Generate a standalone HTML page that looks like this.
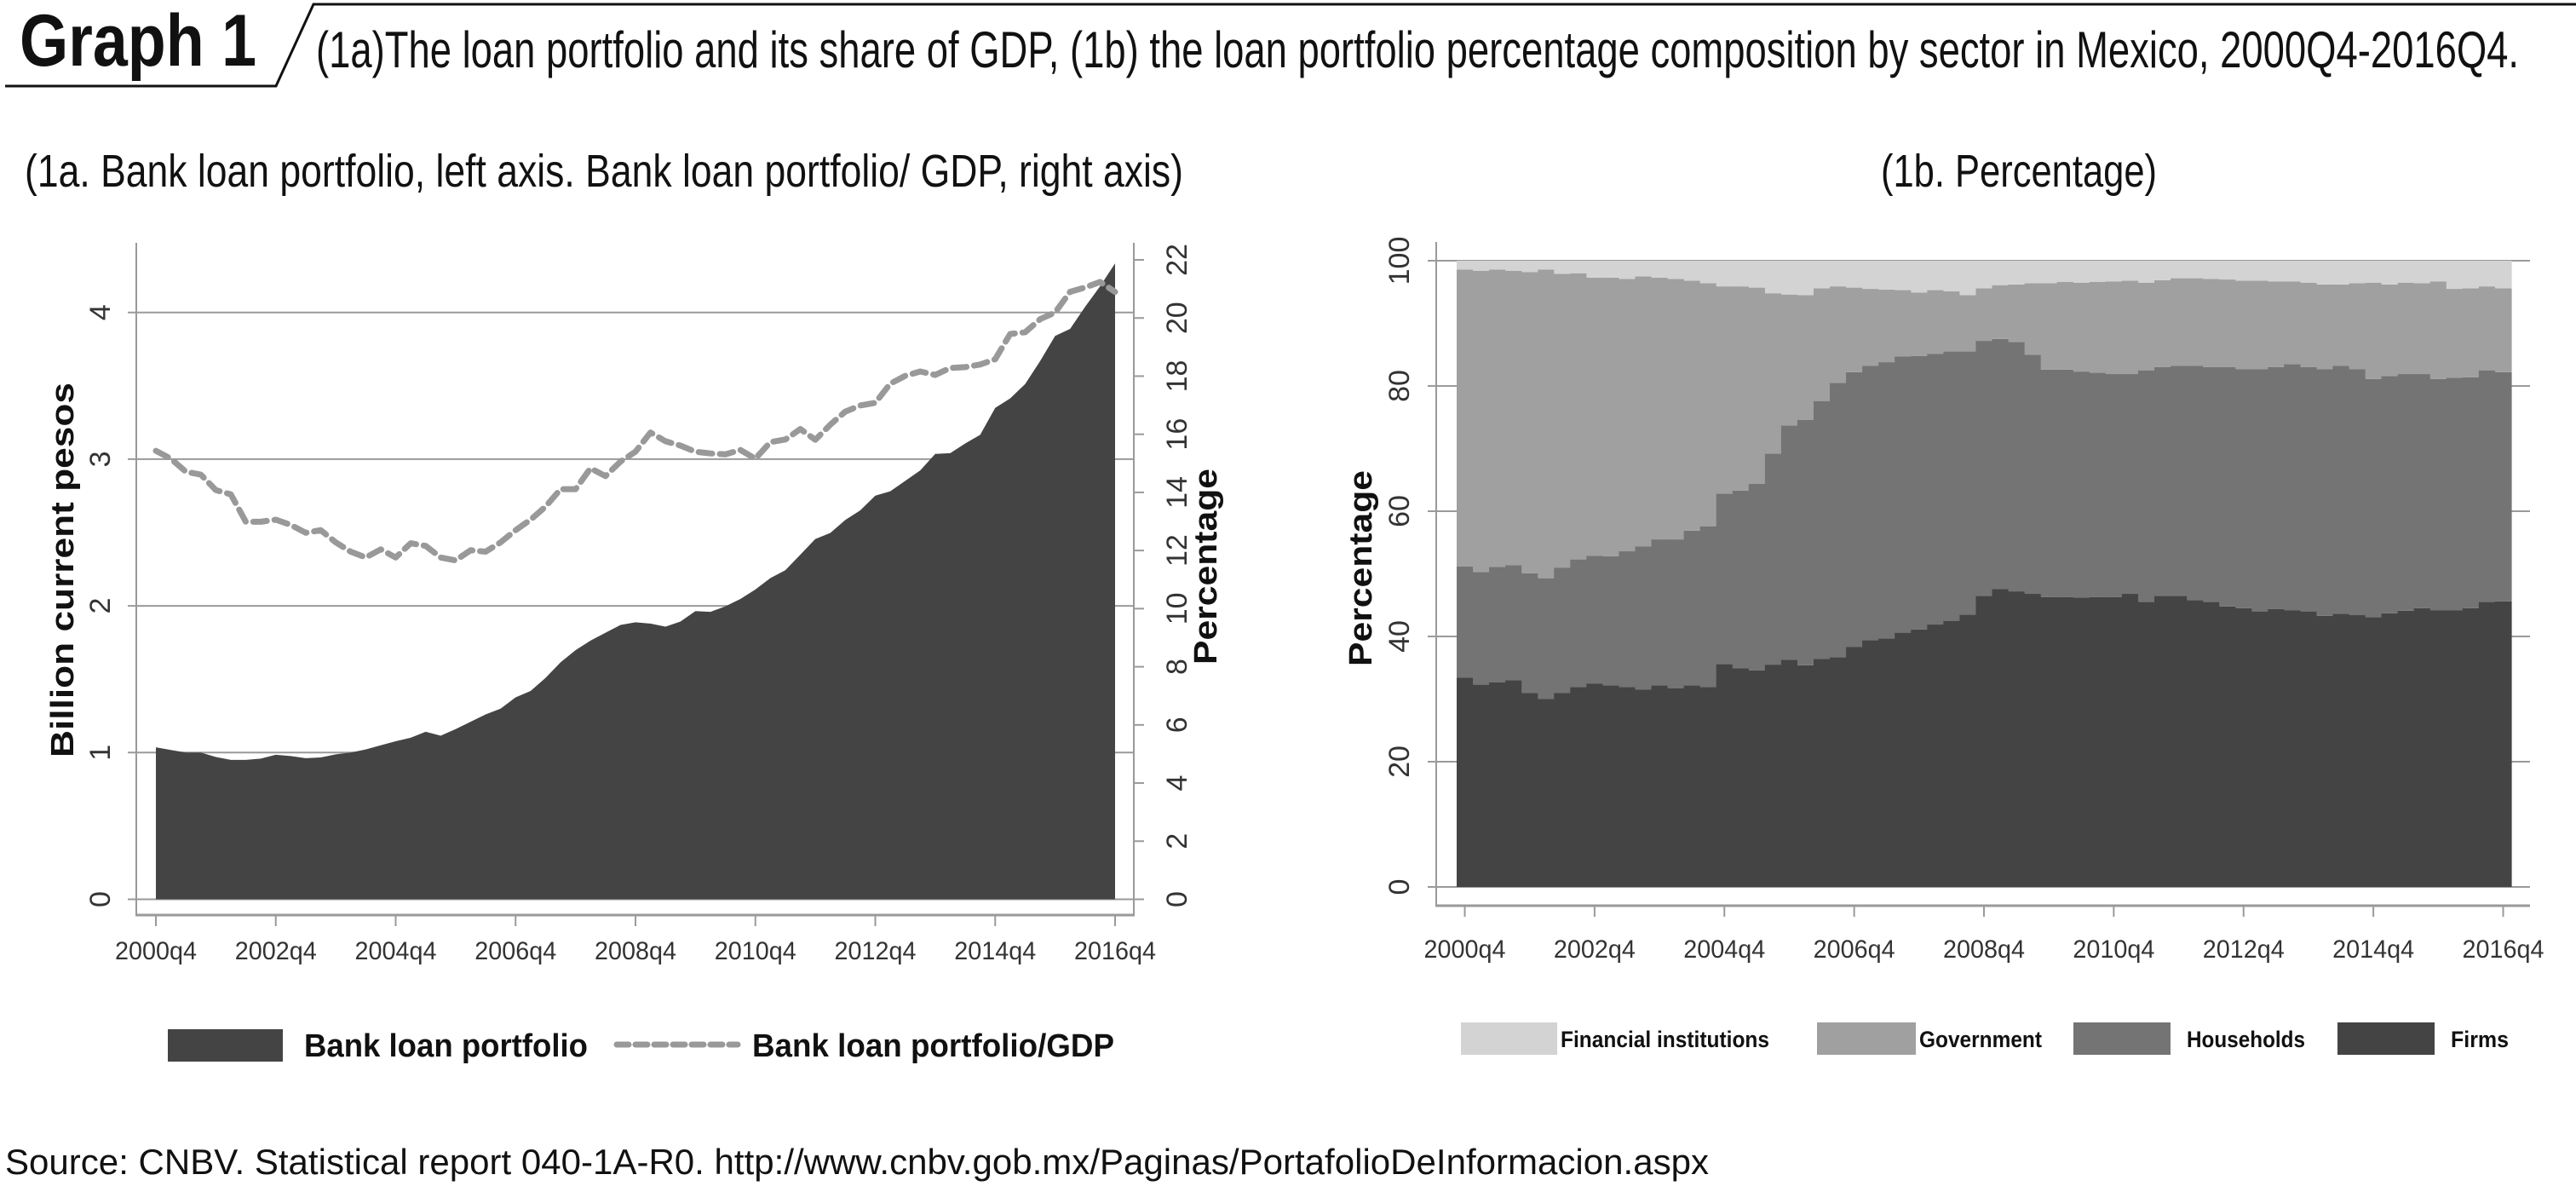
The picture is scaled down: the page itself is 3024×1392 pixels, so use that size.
<!DOCTYPE html>
<html><head><meta charset="utf-8"><style>
html,body{margin:0;padding:0;background:#fff;}
svg{display:block;font-family:"Liberation Sans",sans-serif;}
</style></head><body>
<svg id="root" width="3024" height="1392" viewBox="0 0 3024 1392" xmlns="http://www.w3.org/2000/svg">
<g>
<polyline points="6,101 324,101 368,5 3024,5" fill="none" stroke="#111" stroke-width="3"/>
<text x="23" y="77" font-size="86" font-weight="bold" textLength="278" lengthAdjust="spacingAndGlyphs" fill="#111">Graph 1</text>
<text x="371" y="79" font-size="60" textLength="2586" lengthAdjust="spacingAndGlyphs" fill="#111">(1a)The loan portfolio and its share of GDP, (1b) the loan portfolio percentage composition by sector in Mexico, 2000Q4-2016Q4.</text>
</g>
<text x="29" y="219" font-size="54" textLength="1360" lengthAdjust="spacingAndGlyphs" fill="#111">(1a. Bank loan portfolio, left axis. Bank loan portfolio/ GDP, right axis)</text>
<text x="2208" y="219" font-size="54" textLength="324" lengthAdjust="spacingAndGlyphs" fill="#111">(1b. Percentage)</text>
<g id="left"></g>
<g id="right"></g>
<g>
<rect x="197" y="1208" width="135" height="38" fill="#444"/>
<text x="357" y="1240" font-size="38" font-weight="bold" textLength="333" lengthAdjust="spacingAndGlyphs" fill="#111">Bank loan portfolio</text>
<line x1="724" y1="1226" x2="866" y2="1226" stroke="#999" stroke-width="7" stroke-dasharray="14 8" stroke-linecap="round"/>
<text x="883" y="1240" font-size="38" font-weight="bold" textLength="425" lengthAdjust="spacingAndGlyphs" fill="#111">Bank loan portfolio/GDP</text>
</g>
<g>
<rect x="1715" y="1200" width="113" height="38" fill="#d3d3d3"/>
<text x="1832" y="1229" font-size="27" font-weight="bold" textLength="245" lengthAdjust="spacingAndGlyphs" fill="#111">Financial institutions</text>
<rect x="2133" y="1200" width="116" height="38" fill="#a0a0a0"/>
<text x="2253" y="1229" font-size="27" font-weight="bold" textLength="144" lengthAdjust="spacingAndGlyphs" fill="#111">Government</text>
<rect x="2434" y="1200" width="114" height="38" fill="#747474"/>
<text x="2567" y="1229" font-size="27" font-weight="bold" textLength="139" lengthAdjust="spacingAndGlyphs" fill="#111">Households</text>
<rect x="2744" y="1200" width="114" height="38" fill="#444"/>
<text x="2877" y="1229" font-size="27" font-weight="bold" textLength="68" lengthAdjust="spacingAndGlyphs" fill="#111">Firms</text>
</g>
<text x="6" y="1378" font-size="42" textLength="2000" lengthAdjust="spacingAndGlyphs" fill="#111">Source: CNBV. Statistical report 040-1A-R0. http://www.cnbv.gob.mx/Paginas/PortafolioDeInformacion.aspx</text>
</svg>
<script>
const xTickLabels = ["2000q4","2002q4","2004q4","2006q4","2008q4","2010q4","2012q4","2014q4","2016q4"];
const loanPortfolio = [1.036,1.018,1.0,1.0,0.97,0.95,0.95,0.959,0.985,0.976,0.962,0.967,0.988,1.0,1.021,1.05,1.077,1.101,1.142,1.115,1.16,1.21,1.26,1.299,1.376,1.42,1.509,1.615,1.698,1.763,1.817,1.87,1.888,1.879,1.858,1.893,1.964,1.959,1.997,2.047,2.112,2.189,2.243,2.349,2.456,2.497,2.586,2.651,2.751,2.781,2.852,2.923,3.036,3.041,3.107,3.166,3.349,3.414,3.512,3.669,3.84,3.888,4.038,4.178,4.334];
const loanToGdp = [15.43,15.16,14.71,14.61,14.08,13.93,12.99,12.99,13.06,12.88,12.61,12.7,12.28,11.96,11.76,12.04,11.76,12.25,12.16,11.76,11.66,12.01,11.96,12.28,12.7,13.06,13.51,14.11,14.11,14.83,14.56,15.06,15.4,16.06,15.76,15.61,15.4,15.34,15.31,15.46,15.16,15.73,15.82,16.18,15.81,16.33,16.78,16.99,17.08,17.74,18.01,18.16,18.04,18.28,18.31,18.4,18.58,19.45,19.51,19.96,20.19,20.9,21.05,21.24,20.9];
const leftTicks = [0,1,2,3,4];
const rightTicks = [0,2,4,6,8,10,12,14,16,18,20,22];
const firms = [33.4,32.3,32.7,33.0,31.0,30.0,31.0,31.9,32.5,32.2,31.9,31.5,32.2,31.7,32.2,31.9,35.6,34.9,34.6,35.5,36.3,35.4,36.4,36.7,38.3,39.4,39.7,40.6,41.1,41.9,42.5,43.5,46.5,47.6,47.2,46.8,46.3,46.3,46.2,46.3,46.3,46.8,45.5,46.5,46.5,45.8,45.5,44.8,44.5,44.0,44.4,44.2,44.0,43.3,43.6,43.4,43.1,43.7,44.1,44.5,44.2,44.2,44.5,45.5,45.6];
const households = [17.8,18.0,18.4,18.4,19.1,19.3,20.0,20.4,20.4,20.6,21.7,22.9,23.3,23.8,24.7,25.7,27.2,28.4,29.8,33.7,37.4,39.2,41.2,43.8,43.9,43.8,44.1,44.1,43.7,43.2,43.0,42.0,40.7,39.9,39.8,38.2,36.3,36.3,36.1,35.8,35.6,35.1,37.0,36.5,36.7,37.4,37.5,38.2,38.2,38.7,38.6,39.3,39.0,39.4,39.6,39.3,38.0,37.9,37.8,37.4,36.9,37.1,36.9,37.0,36.6];
const government = [47.4,48.1,47.5,47.0,48.1,49.3,46.9,45.7,44.4,44.5,43.5,43.1,41.8,41.6,39.9,38.8,33.1,32.6,31.3,25.6,20.9,19.9,18.0,15.4,13.5,12.3,11.6,10.6,10.1,10.2,9.6,9.0,8.4,8.6,9.2,11.4,13.8,14.0,14.2,14.5,14.8,14.9,14.0,13.9,14.0,14.0,14.1,14.0,14.1,14.1,13.7,13.2,13.5,13.5,13.0,13.7,15.4,14.6,14.6,14.5,15.6,14.2,14.2,13.4,13.4];
const financial = [1.4,1.6,1.4,1.6,1.8,1.4,2.1,2.0,2.7,2.7,2.9,2.5,2.7,2.9,3.2,3.6,4.1,4.1,4.3,5.2,5.4,5.5,4.4,4.1,4.3,4.5,4.6,4.7,5.1,4.7,4.9,5.5,4.4,3.9,3.8,3.6,3.6,3.4,3.5,3.4,3.3,3.2,3.5,3.1,2.8,2.8,2.9,3.0,3.2,3.2,3.3,3.3,3.5,3.8,3.8,3.6,3.5,3.8,3.5,3.6,3.3,4.5,4.4,4.1,4.4];
const pctTicks = [0,20,40,60,80,100];

const NS = "http://www.w3.org/2000/svg";
function mk(parent, tag, attrs, txt) {
  const e = document.createElementNS(NS, tag);
  for (const k in attrs) e.setAttribute(k, attrs[k]);
  if (txt !== undefined) e.textContent = txt;
  parent.appendChild(e);
  return e;
}
// ---------- left chart ----------
const L = document.getElementById('left');
const n = loanPortfolio.length;
const xL = i => 183 + i * (1309 - 183) / (n - 1);
const yL = v => 1055.5 - v * 172.2;
const yR = v => 1055.5 - v * (1055.5 - 305) / 22;
let e;
leftTicks.forEach(t => {
  e = mk(L, 'line', {x1:150, x2:1331, y1:yL(t), y2:yL(t), stroke:'#9a9a9a', 'stroke-width':2});
  
  
  e = mk(L, 'text', {x:0, y:0, 'font-size':34, 'text-anchor':'middle', fill:'#333', transform:`translate(129,${yL(t)}) rotate(-90)`}, String(t));
  
  
});
let d = `M${xL(0)},${yL(0)}`;
loanPortfolio.forEach((v, i) => { d += ` L${xL(i)},${yL(v)}`; });
d += ` L${xL(n - 1)},${yL(0)} Z`;
e = mk(L, 'path', {d: d, fill:'#444'});


let pts = loanToGdp.map((v, i) => `${xL(i)},${yR(v)}`).join(' ');
e = mk(L, 'polyline', {points: pts, fill:'none', stroke:'#999', 'stroke-width':7, 'stroke-dasharray':'16 9', 'stroke-linecap':'round', 'stroke-linejoin':'round'});


e = mk(L, 'line', {x1:160, x2:160, y1:285, y2:1074, stroke:'#9a9a9a', 'stroke-width':2});


e = mk(L, 'line', {x1:1331, x2:1331, y1:285, y2:1074, stroke:'#9a9a9a', 'stroke-width':2});


e = mk(L, 'line', {x1:159, x2:1332, y1:1074, y2:1074, stroke:'#9a9a9a', 'stroke-width':3});


rightTicks.forEach(t => {
  e = mk(L, 'line', {x1:1331, x2:1343, y1:yR(t), y2:yR(t), stroke:'#9a9a9a', 'stroke-width':2});
  
  
  e = mk(L, 'text', {x:0, y:0, 'font-size':34, 'text-anchor':'middle', fill:'#333', transform:`translate(1393,${yR(t)}) rotate(-90)`}, String(t));
  
  
});
xTickLabels.forEach((s, k) => {
  const x = xL(k * 8);
  e = mk(L, 'line', {x1:x, x2:x, y1:1074, y2:1087, stroke:'#9a9a9a', 'stroke-width':2});
  
  
  e = mk(L, 'text', {x:x, y:1126, 'font-size':30, 'text-anchor':'middle', fill:'#333', textLength:96, lengthAdjust:'spacingAndGlyphs'}, s);
  
  
});
e = mk(L, 'text', {x:0, y:0, 'font-size':38, 'font-weight':'bold', 'text-anchor':'middle', fill:'#111', textLength:440, lengthAdjust:'spacingAndGlyphs', transform:'translate(86,669) rotate(-90)'}, 'Billion current pesos');


e = mk(L, 'text', {x:0, y:0, 'font-size':38, 'font-weight':'bold', 'text-anchor':'middle', fill:'#111', textLength:230, lengthAdjust:'spacingAndGlyphs', transform:'translate(1428,665) rotate(-90)'}, 'Percentage');



// ---------- right chart ----------
const R = document.getElementById('right');
const bw = (2948 - 1710) / firms.length;
const xB = i => 1710 + i * bw;
const yP = v => 1041 - v * 7.35;
pctTicks.forEach(t => {
  e = mk(R, 'line', {x1:1676, x2:2970, y1:yP(t), y2:yP(t), stroke:'#9a9a9a', 'stroke-width':2});
  
  
  e = mk(R, 'text', {x:0, y:0, 'font-size':34, 'text-anchor':'middle', fill:'#333', transform:`translate(1654,${yP(t)}) rotate(-90)`}, String(t));
  
  
});
const series = [[firms,'#444','firms'],[households,'#747474','households'],[government,'#a0a0a0','government'],[financial,'#d3d3d3','financial']];
firms.forEach((_, i) => {
  let base = 0;
  series.forEach(([arr, col, nm]) => {
    const v = arr[i];
    e = mk(R, 'rect', {x:xB(i), y:yP(base + v), width:bw + 0.6, height:yP(base) - yP(base + v), fill:col});
    
    
    base += v;
  });
});
e = mk(R, 'line', {x1:1686, x2:1686, y1:284, y2:1063, stroke:'#9a9a9a', 'stroke-width':2});


e = mk(R, 'line', {x1:1685, x2:2970, y1:1063, y2:1063, stroke:'#9a9a9a', 'stroke-width':3});


xTickLabels.forEach((s, k) => {
  const x = xB(k * 8) + bw / 2;
  e = mk(R, 'line', {x1:x, x2:x, y1:1063, y2:1076, stroke:'#9a9a9a', 'stroke-width':2});
  
  
  e = mk(R, 'text', {x:x, y:1124, 'font-size':30, 'text-anchor':'middle', fill:'#333', textLength:96, lengthAdjust:'spacingAndGlyphs'}, s);
  
  
});
e = mk(R, 'text', {x:0, y:0, 'font-size':38, 'font-weight':'bold', 'text-anchor':'middle', fill:'#111', textLength:230, lengthAdjust:'spacingAndGlyphs', transform:'translate(1610,667) rotate(-90)'}, 'Percentage');


</script>
</body></html>
